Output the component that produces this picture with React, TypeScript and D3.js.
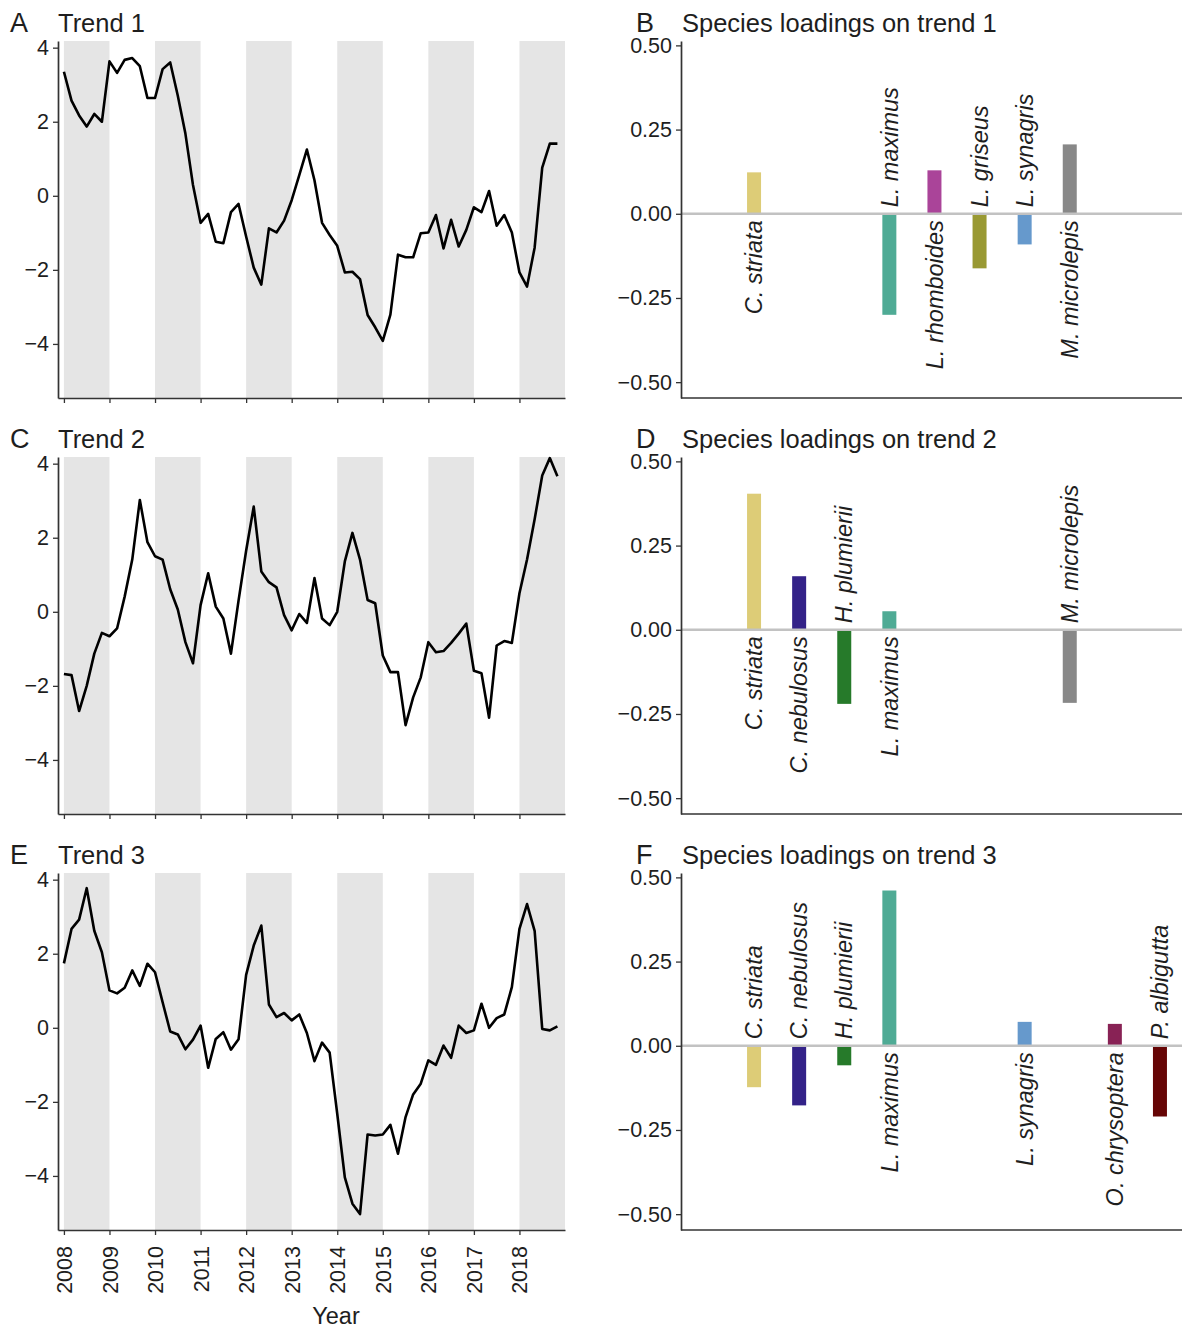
import React, { useEffect, useRef } from 'react';
import * as d3 from 'd3';

// bi-monthly trend estimates, Jan 2008 .. Nov 2018
const trend1 = [3.35, 2.57, 2.17, 1.87, 2.21, 2.0, 3.63, 3.32, 3.67, 3.72,
  3.5, 2.64, 2.64, 3.42, 3.6, 2.7, 1.68, 0.29, -0.73, -0.49,
  -1.24, -1.28, -0.44, -0.22, -1.1, -1.94, -2.4, -0.88, -0.99, -0.67,
  -0.12, 0.56, 1.25, 0.42, -0.73, -1.06, -1.35, -2.07, -2.05, -2.25,
  -3.22, -3.55, -3.92, -3.21, -1.59, -1.66, -1.66, -1.01, -0.99, -0.52,
  -1.42, -0.65, -1.37, -0.92, -0.31, -0.44, 0.13, -0.81, -0.52, -0.99,
  -2.07, -2.45, -1.4, 0.76, 1.41, 1.41];

const trend2 = [-1.68, -1.71, -2.68, -2.0, -1.13, -0.57, -0.66, -0.45, 0.41, 1.41,
  3.02, 1.88, 1.5, 1.41, 0.61, 0.06, -0.82, -1.39, 0.18, 1.04,
  0.14, -0.18, -1.13, 0.3, 1.65, 2.84, 1.09, 0.8, 0.66, -0.09,
  -0.5, -0.06, -0.3, 0.91, -0.18, -0.36, 0.0, 1.36, 2.13, 1.41,
  0.32, 0.23, -1.18, -1.63, -1.63, -3.06, -2.31, -1.77, -0.82, -1.09,
  -1.06, -0.84, -0.59, -0.32, -1.59, -1.66, -2.86, -0.91, -0.79, -0.84,
  0.5, 1.41, 2.5, 3.68, 4.15, 3.66];

const trend3 = [1.74, 2.67, 2.92, 3.77, 2.62, 2.04, 1.01, 0.93, 1.08, 1.55,
  1.13, 1.73, 1.5, 0.69, -0.1, -0.18, -0.58, -0.32, 0.06, -1.08,
  -0.3, -0.12, -0.59, -0.31, 1.43, 2.22, 2.76, 0.63, 0.29, 0.4,
  0.2, 0.36, -0.14, -0.9, -0.4, -0.67, -2.32, -4.04, -4.75, -5.03,
  -2.88, -2.91, -2.88, -2.62, -3.4, -2.41, -1.8, -1.51, -0.88, -1.0,
  -0.48, -0.81, 0.06, -0.14, -0.07, 0.65, 0.0, 0.26, 0.36, 1.1,
  2.67, 3.34, 2.62, -0.03, -0.07, 0.04];

const years = [2008, 2009, 2010, 2011, 2012, 2013, 2014, 2015, 2016, 2017, 2018];
const trendTicks = [-4, -2, 0, 2, 4];

const species = ['C. striata', 'C. nebulosus', 'H. plumierii', 'L. maximus', 'L. rhomboides',
  'L. griseus', 'L. synagris', 'M. microlepis', 'O. chrysoptera', 'P. albigutta'];
const speciesColors = ['#DDCC77', '#332288', '#267A2A', '#4FAB95', '#AA4499',
  '#999933', '#6699CC', '#888888', '#882255', '#660505'];

// null = species not loading on that trend
const loadings1 = [0.123, null, null, -0.30, 0.129, -0.162, -0.091, 0.206, null, null];
const loadings2 = [0.404, 0.159, -0.22, 0.055, null, null, null, -0.217, null, null];
const loadings3 = [-0.123, -0.177, -0.058, 0.461, null, null, 0.071, null, 0.065, -0.21];
const loadingTicks = [-0.5, -0.25, 0, 0.25, 0.5];

const FONT = '"Liberation Sans", Arial, Helvetica, sans-serif';
const TEXT = '#1e1e1e';
const AXIS = '#333';

const App = () => {
  const d3Container = useRef(null);

  useEffect(() => {
    const svg = d3.select(d3Container.current);
    svg.selectAll('*').remove();

    const panelTops = [41, 457, 873];
    const panelH = 357;

    const trends = [trend1, trend2, trend3];
    const loadings = [loadings1, loadings2, loadings3];
    const leftLetters = ['A', 'C', 'E'];
    const rightLetters = ['B', 'D', 'F'];

    const addText = (x, y, txt, size) =>
      svg.append('text')
        .attr('x', x).attr('y', y)
        .attr('font-family', FONT).attr('font-size', size)
        .attr('fill', TEXT).text(txt);

    const styleAxis = (g) => {
      g.attr('font-family', FONT).attr('font-size', 21.5).attr('color', AXIS);
      g.select('.domain').attr('stroke-width', 1.7);
      g.selectAll('.tick line').attr('stroke-width', 1.3);
      g.selectAll('.tick text').attr('fill', TEXT);
    };

    trends.forEach((values, k) => {
      const top = panelTops[k];
      const bottom = top + panelH;
      const times = values.map((_, i) => 2008 + i / 6);

      const x = d3.scaleLinear().domain([2007.87, 2019]).range([58, 565]);
      const y = d3.scaleLinear().domain([-5.46, 4.18]).range([bottom, top]);

      // --- alternating year shading ---
      svg.append('g').selectAll('rect')
        .data(years.filter(yr => yr % 2 === 0))
        .join('rect')
        .attr('x', d => x(d))
        .attr('width', d => x(Math.min(d + 1, 2019)) - x(d))
        .attr('y', top)
        .attr('height', panelH)
        .attr('fill', '#e5e5e5');

      // --- trend line ---
      const line = d3.line()
        .x((d, i) => x(times[i]))
        .y(d => y(d));
      svg.append('path')
        .datum(values)
        .attr('d', line)
        .attr('fill', 'none')
        .attr('stroke', '#000')
        .attr('stroke-width', 2.6)
        .attr('stroke-linejoin', 'round');

      // --- axes ---
      const gy = svg.append('g')
        .attr('transform', `translate(${x.range()[0]},0)`)
        .call(d3.axisLeft(y).tickValues(trendTicks).tickFormat(d3.format('d'))
          .tickSize(5).tickSizeOuter(0).tickPadding(4));
      styleAxis(gy);

      const showYears = k === 2;
      const gx = svg.append('g')
        .attr('transform', `translate(0,${bottom})`)
        .call(d3.axisBottom(x).tickValues(years)
          .tickFormat(showYears ? d3.format('d') : () => '')
          .tickSize(5).tickSizeOuter(0));
      styleAxis(gx);
      if (showYears) {
        gx.selectAll('.tick text')
          .attr('transform', 'rotate(-90)')
          .attr('x', -16)
          .attr('y', 0)
          .attr('dy', '0.35em')
          .attr('text-anchor', 'end');
      }

      addText(10, top - 9, leftLetters[k], 27);
      addText(58, top - 9, `Trend ${k + 1}`, 25.5);
    });

    loadings.forEach((vals, k) => {
      const top = panelTops[k];
      const bottom = top + panelH;
      const x = d3.scaleBand().domain(species).range([731.5, 1182.5]);
      const y = d3.scaleLinear().domain([-0.547, 0.513]).range([bottom, top]);
      const barW = 14;

      const bars = species
        .map((s, i) => ({ s, v: vals[i], c: speciesColors[i] }))
        .filter(d => d.v !== null);

      svg.append('g').selectAll('rect')
        .data(bars)
        .join('rect')
        .attr('x', d => x(d.s) + x.bandwidth() / 2 - barW / 2)
        .attr('width', barW)
        .attr('y', d => y(Math.max(0, d.v)))
        .attr('height', d => Math.abs(y(d.v) - y(0)))
        .attr('fill', d => d.c);

      // zero reference line
      svg.append('line')
        .attr('x1', 681).attr('x2', 1182)
        .attr('y1', y(0)).attr('y2', y(0))
        .attr('stroke', '#c2c2c2')
        .attr('stroke-width', 2.5);

      // species labels, on the opposite side of the bar
      svg.append('g').selectAll('text')
        .data(bars)
        .join('text')
        .attr('transform', d =>
          `translate(${x(d.s) + x.bandwidth() / 2},${y(0) + (d.v > 0 ? 6.5 : -6.5)}) rotate(-90)`)
        .attr('text-anchor', d => (d.v > 0 ? 'end' : 'start'))
        .attr('dy', '0.35em')
        .attr('font-family', FONT)
        .attr('font-style', 'italic')
        .attr('font-size', 23.5)
        .attr('fill', TEXT)
        .text(d => d.s);

      const gy = svg.append('g')
        .attr('transform', 'translate(681,0)')
        .call(d3.axisLeft(y).tickValues(loadingTicks).tickFormat(d3.format('.2f'))
          .tickSize(5).tickSizeOuter(0).tickPadding(4));
      styleAxis(gy);

      svg.append('line')
        .attr('x1', 681).attr('x2', 1182)
        .attr('y1', bottom).attr('y2', bottom)
        .attr('stroke', AXIS)
        .attr('stroke-width', 1.7);

      addText(636, top - 9, rightLetters[k], 27);
      addText(682, top - 9, `Species loadings on trend ${k + 1}`, 25.5);
    });

    // x axis title
    svg.append('text')
      .attr('x', 336).attr('y', 1324)
      .attr('text-anchor', 'middle')
      .attr('font-family', FONT).attr('font-size', 23.5)
      .attr('fill', TEXT)
      .text('Year');
  }, []);

  return (
    <svg
      ref={d3Container}
      width={1182}
      height={1328}
      style={{ position: 'absolute', left: 0, top: 0, background: '#fff' }}
    />
  );
};

export default App;
